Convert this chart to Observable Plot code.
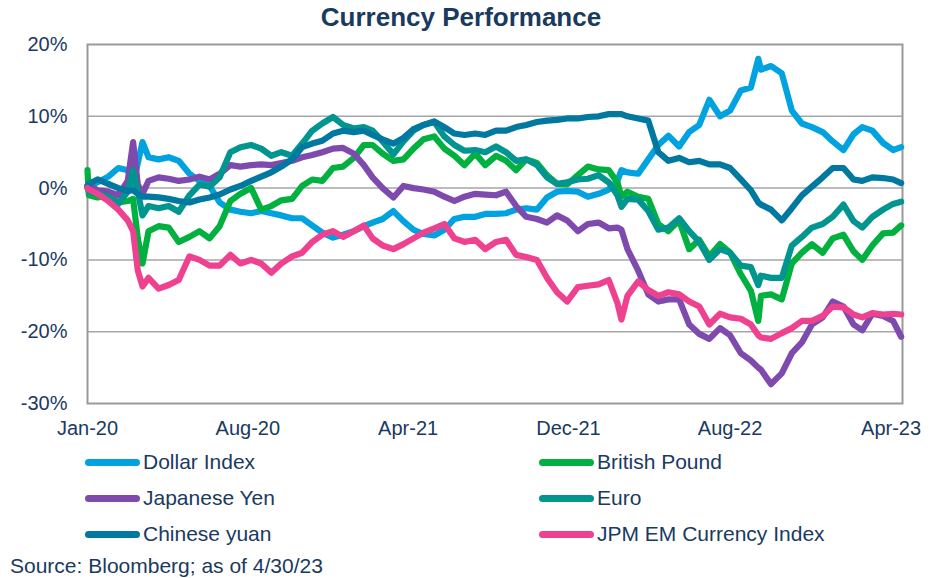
<!DOCTYPE html>
<html><head><meta charset="utf-8">
<script src="https://cdn.jsdelivr.net/npm/d3@7"></script>
<script src="https://cdn.jsdelivr.net/npm/@observablehq/plot@0.6"></script>
<style>
body{margin:0;background:#fff;}
#wrap{position:relative;width:940px;height:578px;font-family:"Liberation Sans",Arial,sans-serif;color:#1A3A5F;overflow:hidden;}
#title{position:absolute;left:0;width:922px;top:2px;text-align:center;font-weight:bold;font-size:26px;line-height:30px;}
#chart{position:absolute;left:0;top:0;}
.leg{position:absolute;font-size:21px;line-height:24px;display:flex;align-items:center;white-space:nowrap;}
.sw{width:55px;height:7px;border-radius:4px;margin-right:3px;}
#source{position:absolute;left:10px;top:554px;font-size:21px;line-height:24px;white-space:nowrap;}
</style></head>
<body>
<div id="wrap">
  <div id="chart"></div>
  <div id="title">Currency Performance</div>
  <div id="legend"></div>
  <div id="source">Source: Bloomberg; as of 4/30/23</div>
</div>
<script>
const dates = [
"2020-01-01","2020-01-03","2020-01-16","2020-02-01","2020-02-16","2020-03-01","2020-03-09","2020-03-16","2020-03-23","2020-04-01","2020-04-16","2020-05-01","2020-05-16","2020-06-01","2020-06-16","2020-07-01","2020-07-16","2020-08-01","2020-08-16","2020-09-01","2020-09-16","2020-10-01","2020-10-16","2020-11-01","2020-11-16","2020-12-01","2020-12-16",
"2021-01-01","2021-01-16","2021-02-01","2021-02-16","2021-03-01","2021-03-16","2021-04-01","2021-04-16","2021-05-01","2021-05-16","2021-06-01","2021-06-16","2021-07-01","2021-07-16","2021-08-01","2021-08-16","2021-09-01","2021-09-16","2021-10-01","2021-10-16","2021-11-01","2021-11-16","2021-12-01","2021-12-16",
"2022-01-01","2022-01-16","2022-02-01","2022-02-16","2022-03-01","2022-03-07","2022-03-16","2022-04-01","2022-04-16","2022-05-01","2022-05-16","2022-06-01","2022-06-16","2022-07-01","2022-07-16","2022-08-01","2022-08-16","2022-09-01","2022-09-16","2022-09-27","2022-10-01","2022-10-16","2022-11-01","2022-11-16","2022-12-01","2022-12-16",
"2023-01-01","2023-01-16","2023-02-01","2023-02-16","2023-03-01","2023-03-16","2023-04-01","2023-04-16","2023-04-28"
];

const dollarIndex = [
0.3,0.4,0.8,1.6,2.8,2.5,0.5,3.5,6.4,4.3,4.0,4.3,3.8,2.0,1.0,0.3,-2.0,-3.0,-3.3,-3.5,-3.2,-3.5,-3.8,-4.2,-4.2,-5.2,-6.2,
-6.9,-6.5,-6.0,-5.3,-4.8,-4.3,-3.2,-4.6,-5.8,-6.4,-6.6,-5.8,-4.3,-4.0,-4.0,-3.6,-3.6,-3.5,-3.0,-2.8,-3.0,-1.3,-0.5,-0.4,
-0.5,-1.2,-0.8,-0.2,1.0,2.5,2.2,2.0,4.0,6.0,7.3,5.8,7.8,8.8,12.3,10.0,10.8,13.6,14.0,18.0,16.5,17.0,16.0,10.8,9.0,8.5,
7.8,6.5,5.3,7.5,8.5,8.0,6.3,5.3,5.7
];
const britishPound = [
2.5,-1.0,-1.3,-1.0,-2.0,-1.8,-1.5,-7.0,-10.5,-6.0,-5.3,-5.5,-7.5,-6.8,-6.0,-7.0,-5.3,-1.8,-0.8,0.0,-3.0,-2.5,-1.7,-1.5,0.3,1.2,1.0,
2.8,3.0,4.2,6.0,6.0,4.8,3.8,4.0,5.5,6.8,7.2,5.5,4.5,3.2,4.8,3.2,4.5,3.8,2.5,4.0,3.5,1.8,0.6,0.5,
1.8,3.0,2.6,2.5,0.8,-1.2,-0.5,-1.2,-1.5,-5.0,-6.0,-4.5,-8.5,-7.2,-9.5,-7.8,-9.0,-12.0,-14.3,-18.5,-15.0,-14.8,-15.5,-10.5,-9.0,-7.8,
-9.0,-7.0,-6.5,-8.8,-10.0,-8.0,-6.3,-6.2,-5.2
];
const japaneseYen = [
0.3,0.5,-0.3,-0.5,-1.0,1.0,6.4,0.5,-0.8,1.0,1.5,1.3,1.0,1.2,1.6,1.2,2.0,3.2,3.0,3.2,3.3,3.2,3.5,3.8,4.3,4.6,5.0,
5.5,5.6,4.8,3.2,1.5,0.0,-1.3,0.3,0.0,-0.2,-0.5,-1.2,-1.8,-1.2,-0.8,-0.9,-1.0,-0.5,-2.5,-4.0,-4.3,-4.8,-3.8,-4.5,
-6.0,-5.0,-4.8,-5.6,-5.5,-5.8,-8.5,-11.5,-14.8,-15.8,-15.5,-15.5,-19.0,-20.3,-21.0,-19.5,-20.5,-23.0,-24.0,-25.0,-25.3,-27.3,-25.8,-23.0,-21.5,-19.0,
-18.0,-15.8,-16.5,-19.0,-19.8,-17.5,-17.8,-18.5,-20.7
];
const euro = [
0.0,-0.5,-0.8,-1.2,-2.2,-0.5,2.5,-0.5,-3.8,-2.5,-2.8,-2.5,-3.3,-1.0,0.5,0.2,1.5,5.0,5.7,6.0,5.5,4.5,5.0,4.5,6.2,8.0,9.0,
9.9,8.8,8.3,8.5,8.0,6.5,4.7,6.5,8.0,8.8,9.2,7.2,6.0,5.2,5.3,5.0,5.8,5.0,3.8,4.0,3.2,1.5,0.6,0.8,
1.2,1.3,1.8,0.8,-1.0,-2.6,-1.5,-1.6,-3.2,-5.8,-5.5,-4.2,-6.0,-7.5,-10.0,-8.5,-9.0,-10.8,-11.0,-13.5,-12.2,-12.5,-12.5,-8.0,-6.8,-5.5,
-5.0,-4.0,-2.3,-4.6,-5.5,-4.0,-3.0,-2.2,-1.9
];
const chineseYuan = [
0.3,0.6,1.2,0.6,0.0,-0.4,-0.3,-0.8,-1.2,-1.2,-1.3,-1.5,-1.8,-2.0,-1.6,-1.3,-0.9,-0.2,0.3,1.0,1.6,2.2,3.0,4.0,5.7,6.2,6.6,
7.6,8.0,7.8,8.0,7.4,6.8,6.2,7.0,8.2,8.8,9.3,8.5,7.6,7.4,7.6,7.4,8.0,8.0,8.5,8.8,9.2,9.4,9.5,9.7,
9.7,9.9,10.0,10.3,10.3,10.3,10.0,9.7,9.4,5.0,3.8,4.2,3.6,3.8,3.3,3.3,2.8,1.2,-0.3,-2.0,-2.3,-3.0,-4.5,-2.8,-1.0,0.2,
1.5,2.8,2.8,1.2,1.0,1.5,1.4,1.2,0.7
];
const jpmEmCurrency = [
0.0,-0.2,-0.8,-1.8,-3.0,-4.5,-6.0,-11.5,-13.7,-12.5,-14.0,-13.5,-12.8,-9.5,-10.0,-10.8,-10.8,-9.3,-10.5,-10.0,-10.5,-11.8,-10.5,-9.5,-9.0,-7.5,-6.5,
-6.0,-6.8,-6.0,-5.2,-7.0,-8.0,-8.5,-7.8,-7.0,-6.2,-5.6,-5.0,-7.0,-7.5,-7.2,-8.5,-7.5,-7.2,-9.3,-9.6,-10.0,-12.5,-14.5,-15.8,
-13.8,-13.6,-13.4,-12.8,-16.0,-18.3,-15.0,-13.0,-14.2,-15.0,-14.5,-14.8,-15.8,-16.5,-19.0,-17.5,-18.0,-18.2,-19.0,-20.5,-20.8,-21.0,-20.2,-19.5,-18.5,-18.5,
-17.8,-16.5,-16.6,-17.6,-18.0,-17.4,-17.6,-17.5,-17.6
];

const seriesNames = ["Dollar Index","British Pound","Japanese Yen","Euro","Chinese yuan","JPM EM Currency Index"];
const seriesColors = ["#00A3E0","#00B140","#7F4AAE","#00968F","#00789F","#EE4290"];
const seriesValues = [dollarIndex, britishPound, japaneseYen, euro, chineseYuan, jpmEmCurrency];

const yTicks = [-30,-20,-10,0,10,20];
const gridValues = [-20,-10,0,10];
const xTickDates = ["2020-01-01","2020-08-27","2021-04-23","2021-12-18","2022-08-16","2023-04-13"];
const xDomain = ["2020-01-01","2023-04-30"];

const parse = d3.utcParse("%Y-%m-%d");
const rows = seriesNames.flatMap((name, s) =>
  seriesValues[s].map((v, i) => ({date: parse(dates[i]), value: v, name})));

const lineMarks = seriesNames.map((name, s) =>
  Plot.line(rows.filter(r => r.name === name), {
    x: "date", y: "value", stroke: seriesColors[s],
    strokeWidth: 6.2, strokeLinejoin: "round", strokeLinecap: "round"
  }));

const chart = Plot.plot({
  width: 940, height: 440,
  marginTop: 44, marginBottom: 37, marginLeft: 87, marginRight: 38,
  style: {fontFamily: '"Liberation Sans", Arial, sans-serif', fontSize: "20px", color: "#1A3A5F", background: "transparent", overflow: "visible"},
  x: {type: "utc", domain: xDomain.map(parse)},
  y: {domain: [-30, 20]},
  marks: [
    Plot.ruleY(gridValues, {stroke: "#A6A6A6", strokeWidth: 1.5}),
    Plot.frame({stroke: "#999999", strokeWidth: 2}),
    ...lineMarks,
    Plot.axisY({ticks: yTicks, tickSize: 0, tickPadding: 20, tickFormat: d => d + "%", label: null}),
    Plot.axisX({ticks: xTickDates.map(parse), tickSize: 0, tickPadding: 17, tickFormat: d3.utcFormat("%b-%y"), label: null})
  ]
});
document.getElementById("chart").appendChild(chart);

// legend (two columns, three rows, row-wise order)
const legend = document.getElementById("legend");
const colX = [85, 539];
const rowTop = [450, 486, 522];
seriesNames.forEach((name, i) => {
  const el = document.createElement("div");
  el.className = "leg";
  el.style.left = colX[i % 2] + "px";
  el.style.top = rowTop[Math.floor(i / 2)] + "px";
  const sw = document.createElement("div");
  sw.className = "sw";
  sw.style.background = seriesColors[i];
  const tx = document.createElement("span");
  tx.textContent = name;
  el.appendChild(sw); el.appendChild(tx);
  legend.appendChild(el);
});
</script>
</body></html>
